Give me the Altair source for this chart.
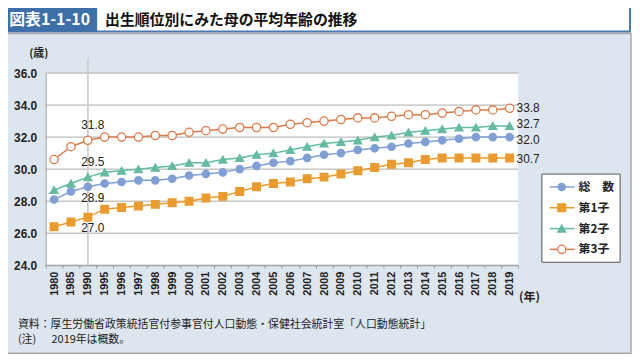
import altair as alt
import pandas as pd

years = ["1980", "1985", "1990", "1995", "1996", "1997", "1998", "1999", "2000",
         "2001", "2002", "2003", "2004", "2005", "2006", "2007", "2008", "2009",
         "2010", "2011", "2012", "2013", "2014", "2015", "2016", "2017", "2018", "2019"]
total = [28.1, 28.6, 28.9, 29.1, 29.2, 29.3, 29.3, 29.4, 29.6, 29.7, 29.8, 30.0, 30.2, 30.4,
         30.5, 30.7, 30.9, 31.0, 31.2, 31.3, 31.4, 31.6, 31.7, 31.8, 31.9, 32.0, 32.0, 32.0]
first = [26.4, 26.7, 27.0, 27.5, 27.6, 27.7, 27.8, 27.9, 28.0, 28.2, 28.3, 28.6, 28.9, 29.1,
         29.2, 29.4, 29.5, 29.7, 29.9, 30.1, 30.3, 30.4, 30.6, 30.7, 30.7, 30.7, 30.7, 30.7]
second = [28.7, 29.1, 29.5, 29.8, 29.9, 30.0, 30.1, 30.2, 30.4, 30.4, 30.6, 30.7, 30.9, 31.0,
          31.2, 31.4, 31.6, 31.7, 31.8, 32.0, 32.1, 32.3, 32.4, 32.5, 32.6, 32.6, 32.7, 32.7]
third = [30.6, 31.4, 31.8, 32.0, 32.0, 32.0, 32.1, 32.1, 32.3, 32.4, 32.5, 32.6, 32.6, 32.6,
         32.8, 32.9, 33.0, 33.1, 33.2, 33.2, 33.3, 33.4, 33.4, 33.5, 33.6, 33.7, 33.7, 33.8]

series_names = ["総　数", "第1子", "第2子", "第3子"]
colors = ["#7f9fd6", "#eb9b2d", "#63bba2", "#e07a48"]
fills = ["#7f9fd6", "#eb9b2d", "#63bba2", "#ffffff"]
shapes = ["circle", "square", "triangle-up", "circle"]
sizes = [55, 70, 60, 62]
y_ticks = [24, 26, 28, 30, 32, 34, 36]

rows = []
for name, vals in zip(series_names, [total, first, second, third]):
    for yr, v in zip(years, vals):
        rows.append({"year": yr, "series": name, "value": v})
df = pd.DataFrame(rows)
one = pd.DataFrame({"a": [0]})
leg_df = pd.DataFrame({"series": series_names, "rank": [0, 1, 2, 3]})

JP = "Noto Sans CJK JP"
NUM = "Liberation Sans"
W, H = 477, 194

xaxis = alt.Axis(title=None, labelAngle=270, labelFontSize=11, labelFontWeight="bold",
                 labelFont=NUM, labelColor="#222", labelPadding=3, tickBand="extent",
                 tickSize=3, tickColor="#999", domainColor="#999", grid=False, zindex=1)
yaxis = alt.Axis(title=None, values=y_ticks, format=".1f", labelFontSize=12,
                 labelFontWeight="bold", labelFont=NUM, labelColor="#222", labelPadding=9,
                 ticks=False, domainColor="#999", grid=False, zindex=1)
xs = alt.Scale(type="band", paddingInner=0, paddingOuter=0)
ys = alt.Scale(domain=[24, 36], nice=False, zero=False)
X = alt.X("year:O", sort=years, scale=xs, axis=xaxis)
Y = alt.Y("value:Q", scale=ys, axis=yaxis)

color_s = alt.Scale(domain=series_names, range=colors)
fill_s = alt.Scale(domain=series_names, range=fills)
shape_s = alt.Scale(domain=series_names, range=shapes)
size_s = alt.Scale(domain=series_names, range=sizes)

base1 = alt.Chart(one)

panel = base1.mark_rect(fill="#dde6ef", stroke="#a8a8a8", strokeWidth=1.5).encode(
    x=alt.value(-43), x2=alt.value(591), y=alt.value(-40), y2=alt.value(283))
titlebar = base1.mark_rect(fill="white", stroke="#4a78b0", strokeWidth=2).encode(
    x=alt.value(-43), x2=alt.value(590), y=alt.value(-67), y2=alt.value(-42))
bluebox = base1.mark_rect(fill="#3d6fa8").encode(
    x=alt.value(-43), x2=alt.value(52), y=alt.value(-67), y2=alt.value(-42))
t1 = base1.mark_text(text="図表1-1-10", font=JP, fontSize=16, fontWeight="bold",
                     color="white", align="center", baseline="middle").encode(
    x=alt.value(4), y=alt.value(-54))
t2 = base1.mark_text(text="出生順位別にみた母の平均年齢の推移", font=JP, fontSize=15,
                     fontWeight="bold", color="#111", align="left", baseline="middle").encode(
    x=alt.value(60), y=alt.value(-54))
unit_y = base1.mark_text(text="(歳)", font=JP, fontSize=11, fontWeight="bold",
                         color="#222", align="center", baseline="middle").encode(
    x=alt.value(-7), y=alt.value(-19))
unit_x = base1.mark_text(text="(年)", font=JP, fontSize=12, fontWeight="bold",
                         color="#222", align="left", baseline="middle").encode(
    x=alt.value(478), y=alt.value(226))
note1 = base1.mark_text(text="資料：厚生労働省政策統括官付参事官付人口動態・保健社会統計室「人口動態統計」",
                        font=JP, fontSize=11, color="#222", align="left", baseline="middle").encode(
    x=alt.value(-28), y=alt.value(254))
note2a = base1.mark_text(text="(注)", font=JP, fontSize=11, color="#222", align="left",
                         baseline="middle").encode(x=alt.value(-28), y=alt.value(270))
note2b = base1.mark_text(text="2019年は概数。", font=JP, fontSize=11, color="#222", align="left",
                         baseline="middle").encode(x=alt.value(6), y=alt.value(270))
white = base1.mark_rect(fill="white").encode(
    x=alt.value(0), x2=alt.value(W), y=alt.value(0), y2=alt.value(H))
legbox = base1.mark_rect(fill="white", stroke="#555", strokeWidth=1).encode(
    x=alt.value(501), x2=alt.value(580), y=alt.value(102), y2=alt.value(191))

grid = alt.Chart(pd.DataFrame({"value": y_ticks})).mark_rule(color="#aaaaaa", strokeWidth=1).encode(y=Y)

vline = alt.Chart(df).transform_filter(alt.datum.year == "1990").mark_rule(
    color="#cfcfcf", strokeWidth=1).encode(x=X, y=alt.value(-15), y2=alt.value(H))

lines = alt.Chart(df).mark_line(strokeWidth=1.5).encode(
    x=X, y=Y, color=alt.Color("series:N", scale=color_s, legend=None),
    detail="series:N")
points = alt.Chart(df).mark_point(opacity=1, strokeWidth=1.3).encode(
    x=X, y=Y,
    shape=alt.Shape("series:N", scale=shape_s, legend=None),
    fill=alt.Fill("series:N", scale=fill_s, legend=None),
    stroke=alt.Stroke("series:N", scale=color_s, legend=None),
    size=alt.Size("series:N", scale=size_s, legend=None))

lab_style = dict(font=NUM, fontSize=12, color="#222", baseline="middle")


def end_label(series, dy):
    return alt.Chart(df).transform_filter(
        (alt.datum.year == "2019") & (alt.datum.series == series)
    ).mark_text(align="left", dx=7, dy=dy, **lab_style).encode(
        x=X, y=Y, text=alt.Text("value:Q", format=".1f"))


lab_up = alt.Chart(df).transform_filter(
    (alt.datum.year == "1990") & ((alt.datum.series == "第3子") | (alt.datum.series == "第2子"))
).mark_text(align="center", dx=5, dy=-15, **lab_style).encode(
    x=X, y=Y, text=alt.Text("value:Q", format=".1f"))
lab_dn = alt.Chart(df).transform_filter(
    (alt.datum.year == "1990") & ((alt.datum.series == "総　数") | (alt.datum.series == "第1子"))
).mark_text(align="center", dx=5, dy=11, **lab_style).encode(
    x=X, y=Y, text=alt.Text("value:Q", format=".1f"))
lab_r3 = end_label("第3子", 0)
lab_r2 = end_label("第2子", -2)
lab_r0 = end_label("総　数", 3)
lab_r1 = end_label("第1子", 1)

main = alt.layer(panel, titlebar, bluebox, t1, t2, unit_y, unit_x, note1, note2a, note2b,
                 white, legbox, grid, vline, lines, points, lab_up, lab_dn,
                 lab_r3, lab_r2, lab_r0, lab_r1)

LY = alt.Y("rank:Q", scale=alt.Scale(domain=[0, 3], range=[115, 178]), axis=None)
leg_rule = alt.Chart(leg_df).mark_rule(strokeWidth=1.5).encode(
    x=alt.value(509), x2=alt.value(534), y=LY,
    color=alt.Color("series:N", scale=color_s, legend=None))
leg_pt = alt.Chart(leg_df).mark_point(opacity=1, strokeWidth=1.3).encode(
    x=alt.value(521), y=LY,
    shape=alt.Shape("series:N", scale=shape_s, legend=None),
    fill=alt.Fill("series:N", scale=fill_s, legend=None),
    stroke=alt.Stroke("series:N", scale=color_s, legend=None),
    size=alt.Size("series:N", scale=size_s, legend=None))
leg_txt = alt.Chart(leg_df).mark_text(font=JP, fontSize=12, fontWeight="bold", color="#222",
                                      align="left", baseline="middle").encode(
    x=alt.value(538), y=LY, text="series:N")
legend = alt.layer(leg_rule, leg_pt, leg_txt)

chart = alt.layer(main, legend).resolve_scale(y="independent").properties(
    width=W, height=H, autosize="none",
    padding={"left": 38, "top": 64, "right": 115, "bottom": 92},
).configure_view(stroke=None).configure(background="white")

chart.save("out.html", embed_options={"renderer": "svg", "actions": False})
